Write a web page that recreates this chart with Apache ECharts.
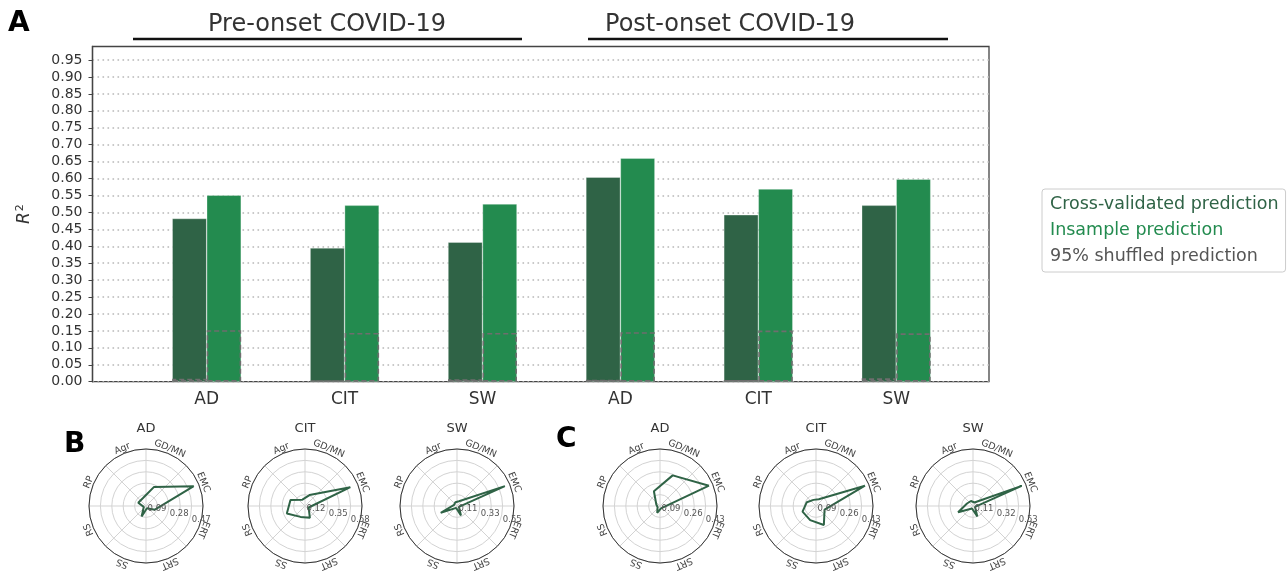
<!DOCTYPE html>
<html>
<head>
<meta charset="utf-8">
<script src="https://cdn.jsdelivr.net/npm/echarts@6/dist/echarts.min.js"></script>
<style>
html, body { margin: 0; padding: 0; background: #fff; }
#chart { width: 1288px; height: 571px; }
</style>
</head>
<body>
<div id="chart"></div>
<script>
// bar panel (A)
const groups = ['AD', 'CIT', 'SW', 'AD', 'CIT', 'SW']
const cvScores = [0.482, 0.395, 0.412, 0.604, 0.493, 0.521]
const inScores = [0.551, 0.521, 0.525, 0.660, 0.569, 0.598]
const cvShuffled = [0.009, 0.004, 0.007, 0.006, 0.005, 0.010]
const inShuffled = [0.152, 0.144, 0.144, 0.146, 0.151, 0.143]
const periods = ['Pre-onset COVID-19', 'Post-onset COVID-19']

// polar panels (B, C)
const radarLabels = ['EMC', 'GD/MN', 'Agr', 'RP', 'RS', 'SS', 'SRT', 'ERT']
const radarTitles = ['AD', 'CIT', 'SW', 'AD', 'CIT', 'SW']
const radarMax = [0.474, 0.58, 0.55, 0.43, 0.43, 0.53]
const preAD = [0.43, 0.17, 0.07, 0.07, 0.02, 0.095, 0.02, 0.08]
const preCIT = [0.50, 0.12, 0.07, 0.16, 0.20, 0.12, 0.13, 0.04]
const preSW = [0.50, 0.05, 0.04, 0.03, 0.17, 0.02, 0.10, 0.02]
const postAD = [0.40, 0.25, 0.12, 0.03, 0.02, 0.055, 0.02, 0.01]
const postCIT = [0.40, 0.055, 0.05, 0.075, 0.11, 0.115, 0.155, 0.07]
const postSW = [0.49, 0.035, 0.05, 0.06, 0.15, 0.025, 0.105, 0.02]
const radarValues = [preAD, preCIT, preSW, postAD, postCIT, postSW]

const FONT = 'DejaVu Sans'
const DARK = '#2f6346'
const LIGHT = '#238b4f'
const radarX = [146, 305, 457, 660, 816, 973]
const radarY = 506
const radarR = 57
const n = radarValues.length

const chart = echarts.init(document.getElementById('chart'))

const polar = [], angleAxis = [], radiusAxis = [], polarSeries = []
radarValues.forEach(function (vals, i) {
  const step = radarMax[i] / 5
  polar.push({ center: [radarX[i], radarY], radius: radarR })
  angleAxis.push({
    polarIndex: i, type: 'category', data: radarLabels, startAngle: 0, clockwise: false,
    boundaryGap: true,
    axisLine: { lineStyle: { color: '#333', width: 1 } },
    axisTick: { show: false },
    axisLabel: { show: false },
    splitLine: { show: true, lineStyle: { color: '#d3d3d3', width: 1 } }
  })
  radiusAxis.push({
    polarIndex: i, type: 'value', min: 0, max: radarMax[i], interval: step,
    axisLine: { show: false }, axisTick: { show: false }, axisLabel: { show: false },
    splitLine: { show: true, lineStyle: { color: '#d3d3d3', width: 1 } }
  })
  const pts = vals.map(function (v, k) { return [v, k] })
  pts.push([vals[0], 0])
  polarSeries.push({
    type: 'line', coordinateSystem: 'polar', polarIndex: i, data: pts,
    symbol: 'none', silent: true, lineStyle: { color: DARK, width: 2 }, z: 5
  })
})
// label-only polars: radial tick labels sit on a line just below horizontal
radarValues.forEach(function (vals, i) {
  const step = radarMax[i] / 5
  polar.push({ center: [radarX[i], radarY], radius: radarR })
  angleAxis.push({ polarIndex: n + i, type: 'value', min: 0, max: 360, startAngle: -14, show: false })
  radiusAxis.push({
    polarIndex: n + i, type: 'value', min: 0, max: radarMax[i], interval: step,
    axisLine: { show: false }, axisTick: { show: false }, splitLine: { show: false },
    axisLabel: {
      fontSize: 8.5, color: '#555', margin: 0, align: 'center', verticalAlign: 'middle', fontFamily: FONT,
      formatter: function (v) { return Math.round(v / step) % 2 === 1 ? v.toFixed(2) : '' }
    },
    z: 6
  })
})

const shuffledStyle = { color: 'rgba(0,0,0,0)', borderColor: '#6e6e6e', borderWidth: 1.6, borderType: [5, 3] }

chart.setOption({
  animation: false,
  backgroundColor: '#fff',
  textStyle: { fontFamily: FONT },
  legend: {
    orient: 'vertical', left: 1042, top: 189,
    itemWidth: 0, itemHeight: 0, itemGap: 8,
    padding: [6, 7, 7, 2],
    borderColor: '#ccc', borderWidth: 1, borderRadius: 3,
    selectedMode: false,
    textStyle: { fontSize: 17.5, fontFamily: FONT },
    data: [
      { name: 'Cross-validated prediction', textStyle: { color: DARK } },
      { name: 'Insample prediction', textStyle: { color: LIGHT } },
      { name: '95% shuffled prediction', textStyle: { color: '#555' } }
    ]
  },
  grid: [
    { left: 92.5, right: 299, top: 46.5, bottom: 189.3, show: true, borderColor: '#444', borderWidth: 1.3 },
    { left: 137.75, right: 322.85, top: 46.5, bottom: 189.3 }
  ],
  xAxis: [
    { gridIndex: 0, type: 'value', min: 0, max: 1, show: false },
    {
      gridIndex: 1, type: 'category', data: groups,
      axisLine: { show: false },
      axisTick: { alignWithLabel: true, length: 5, lineStyle: { color: '#333', width: 1.2 } },
      axisLabel: { fontSize: 17, color: '#333', margin: 9, fontFamily: FONT }
    },
    { gridIndex: 1, type: 'category', data: groups, show: false }
  ],
  yAxis: [
    {
      gridIndex: 0, type: 'value', min: 0, max: 0.99, interval: 0.05,
      name: '{r|R}{s|2}', nameLocation: 'middle', nameGap: 58, nameRotate: 90,
      nameTextStyle: {
        rich: {
          r: { fontSize: 17, fontStyle: 'italic', color: '#333', fontFamily: FONT },
          s: { fontSize: 11, color: '#333', fontFamily: FONT, padding: [0, 0, 9, 1] }
        }
      },
      axisLine: { show: true, lineStyle: { color: '#444', width: 1.3 } },
      axisTick: { show: true, length: 4, lineStyle: { color: '#444' } },
      axisLabel: { fontSize: 14, color: '#333', margin: 10, showMaxLabel: false, fontFamily: FONT,
        formatter: function (v) { return v.toFixed(2) } },
      splitLine: { show: true, showMaxLine: false, lineStyle: { color: '#b8b8b8', width: 1.6, type: [1.6, 3.4] } }
    },
    { gridIndex: 1, type: 'value', min: 0, max: 0.99, show: false, splitLine: { show: false } }
  ],
  polar: polar,
  angleAxis: angleAxis,
  radiusAxis: radiusAxis,
  series: [
    { name: 'Cross-validated prediction', type: 'bar', xAxisIndex: 1, yAxisIndex: 1, data: cvScores,
      barWidth: 34.5, barGap: '0%', itemStyle: { color: DARK, borderColor: 'rgba(255,255,255,0.5)', borderWidth: 0.6 } },
    { name: 'Insample prediction', type: 'bar', xAxisIndex: 1, yAxisIndex: 1, data: inScores,
      barWidth: 34.5, barGap: '0%', itemStyle: { color: LIGHT, borderColor: 'rgba(255,255,255,0.5)', borderWidth: 0.6 } },
    { name: '95% shuffled prediction', type: 'bar', xAxisIndex: 2, yAxisIndex: 1, data: cvShuffled, z: 4,
      barWidth: 34.5, barGap: '0%', itemStyle: shuffledStyle },
    { name: '95% shuffled prediction', type: 'bar', xAxisIndex: 2, yAxisIndex: 1, data: inShuffled, z: 4,
      barWidth: 34.5, barGap: '0%', itemStyle: shuffledStyle }
  ].concat(polarSeries)
})

// texts: panel letters, headers, radar titles and tangential category labels
const texts = [
  { type: 'text', x: 8, y: 10, style: { text: 'A', font: 'bold 28px ' + FONT, fill: '#000' } },
  { type: 'text', x: 64, y: 431, style: { text: 'B', font: 'bold 28px ' + FONT, fill: '#000' } },
  { type: 'text', x: 556, y: 426, style: { text: 'C', font: 'bold 28px ' + FONT, fill: '#000' } },
  { type: 'text', x: 327, y: 13, style: { text: periods[0], font: '24px ' + FONT, fill: '#333', textAlign: 'center' } },
  { type: 'text', x: 730, y: 13, style: { text: periods[1], font: '24px ' + FONT, fill: '#333', textAlign: 'center' } },
  { type: 'line', shape: { x1: 133, y1: 39, x2: 522, y2: 39 }, style: { stroke: '#111', lineWidth: 2.5 } },
  { type: 'line', shape: { x1: 588, y1: 39, x2: 948, y2: 39 }, style: { stroke: '#111', lineWidth: 2.5 } }
]
radarTitles.forEach(function (t, i) {
  texts.push({ type: 'text', x: radarX[i], y: 422, style: { text: t, font: '13px ' + FONT, fill: '#333', textAlign: 'center' } })
  const rLab = radarMax[i] * (1 + 5 / radarR)
  radarLabels.forEach(function (lab, k) {
    // nudge a little counter-clockwise like the reference's label anchors
    const p = chart.convertToPixel({ polarIndex: i }, [rLab, k + 0.08])
    const deg = 22.5 + 45 * k
    texts.push({
      type: 'text', x: p[0], y: p[1], rotation: (deg - 90) * Math.PI / 180,
      style: { text: lab, font: '9.5px ' + FONT, fill: '#444', textAlign: 'center', textVerticalAlign: 'middle' }
    })
  })
})
chart.setOption({ graphic: texts })
</script>
</body>
</html>
